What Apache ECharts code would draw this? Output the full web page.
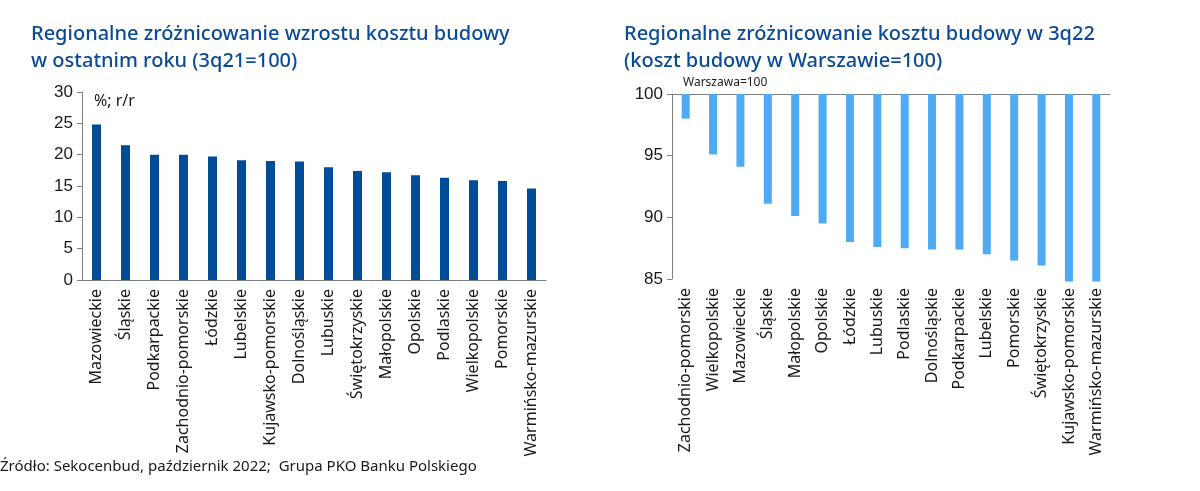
<!DOCTYPE html>
<html>
<head>
<meta charset="utf-8">
<script src="https://cdn.jsdelivr.net/npm/echarts@6/dist/echarts.min.js"></script>
<style>
html, body { margin: 0; padding: 0; background: #fff; }
#chart { width: 1200px; height: 491px; }
</style>
</head>
<body>
<div id="chart"></div>
<script>
// wzrost kosztu budowy r/r, %
const growthRegions = ['Mazowieckie', 'Śląskie', 'Podkarpackie', 'Zachodnio-pomorskie', 'Łódzkie', 'Lubelskie',
	'Kujawsko-pomorskie', 'Dolnośląskie', 'Lubuskie', 'Świętokrzyskie', 'Małopolskie', 'Opolskie',
	'Podlaskie', 'Wielkopolskie', 'Pomorskie', 'Warmińsko-mazurskie'];
const growthValues = [24.8, 21.5, 20.0, 20.0, 19.7, 19.1, 19.0, 18.9, 18.0, 17.4, 17.2, 16.7, 16.3, 15.9, 15.8, 14.6];

// koszt budowy, Warszawa = 100
const levelRegions = ['Zachodnio-pomorskie', 'Wielkopolskie', 'Mazowieckie', 'Śląskie', 'Małopolskie', 'Opolskie',
	'Łódzkie', 'Lubuskie', 'Podlaskie', 'Dolnośląskie', 'Podkarpackie', 'Lubelskie', 'Pomorskie',
	'Świętokrzyskie', 'Kujawsko-pomorskie', 'Warmińsko-mazurskie'];
const levelValues = [98.0, 95.1, 94.1, 91.1, 90.1, 89.5, 88.0, 87.6, 87.5, 87.4, 87.4, 87.0, 86.5, 86.1, 84.8, 84.8];
const warsawLevel = 100;

const leftTicks = { min: 0, max: 30, interval: 5 };
const rightTicks = { min: 85, max: 100, interval: 5 };

const titleColor = '#0b4a96';
const darkBar = '#004c97';
const lightBar = '#4eaaf3';
const axisColor = '#7f7f7f';
const roundFont = '"Noto Sans", sans-serif';
const numFont = '"Liberation Sans", Arial, sans-serif';

// bars hang down from Warszawa=100, so stack a hidden base under the gap
const levelGap = levelValues.map(v => +(warsawLevel - v).toFixed(1));

const catLabel = {
	rotate: 90,
	interval: 0,
	fontFamily: roundFont,
	fontSize: 16,
	color: '#1a1a1a',
	margin: 9
};
const valLabel = {
	fontFamily: numFont,
	fontSize: 17,
	color: '#1a1a1a',
	margin: 9
};
const titleStyle = { color: titleColor, fontFamily: roundFont, fontSize: 20, fontWeight: 500, lineHeight: 27 };

const chart = echarts.init(document.getElementById('chart'));

const option = {
	animation: false,
	title: [
		{
			text: 'Regionalne zróżnicowanie wzrostu kosztu budowy\nw ostatnim roku (3q21=100)',
			left: 26, top: 16,
			textStyle: titleStyle
		},
		{
			text: 'Regionalne zróżnicowanie kosztu budowy w 3q22\n(koszt budowy w Warszawie=100)',
			left: 619, top: 16,
			textStyle: titleStyle
		}
	],
	graphic: [
		{ type: 'text', left: 94, top: 93, style: { text: '%; r/r', fontFamily: roundFont, fontSize: 16, fill: '#1a1a1a' } },
		{ type: 'text', left: 683, top: 77, style: { text: 'Warszawa=100', fontFamily: roundFont, fontSize: 12, fill: '#1a1a1a' } },
		{ type: 'text', left: 0, top: 459, style: { text: 'Źródło: Sekocenbud, październik 2022;  Grupa PKO Banku Polskiego', fontFamily: roundFont, fontSize: 15, fill: '#1a1a1a' } }
	],
	grid: [
		{ left: 82, top: 92, width: 464, height: 188 },
		{ left: 672, top: 94, width: 438, height: 185 }
	],
	xAxis: [
		{
			gridIndex: 0, type: 'category', data: growthRegions,
			axisLine: { lineStyle: { color: axisColor } },
			axisTick: { length: 5, lineStyle: { color: axisColor } },
			axisLabel: catLabel
		},
		{
			gridIndex: 1, type: 'category', data: levelRegions, position: 'top',
			axisLine: { lineStyle: { color: axisColor } },
			axisTick: { length: 4, lineStyle: { color: axisColor } },
			axisLabel: { show: false }
		},
		{
			gridIndex: 1, type: 'category', data: levelRegions, position: 'bottom',
			axisLine: { show: false },
			axisTick: { show: false },
			axisLabel: catLabel
		}
	],
	yAxis: [
		{
			gridIndex: 0, type: 'value', min: leftTicks.min, max: leftTicks.max, interval: leftTicks.interval,
			axisLine: { show: true, lineStyle: { color: axisColor } },
			axisTick: { show: true, length: 5, lineStyle: { color: axisColor } },
			splitLine: { show: false },
			axisLabel: valLabel
		},
		{
			gridIndex: 1, type: 'value', min: rightTicks.min, max: rightTicks.max, interval: rightTicks.interval,
			axisLine: { show: true, lineStyle: { color: axisColor } },
			axisTick: { show: true, length: 5, lineStyle: { color: axisColor } },
			splitLine: { show: false },
			axisLabel: valLabel
		}
	],
	series: [
		{
			type: 'bar', xAxisIndex: 0, yAxisIndex: 0,
			data: growthValues, barWidth: 9,
			itemStyle: { color: darkBar }
		},
		{
			type: 'bar', xAxisIndex: 1, yAxisIndex: 1, stack: 'lvl',
			data: levelValues, barWidth: 8,
			itemStyle: { color: 'transparent' },
			silent: true
		},
		{
			type: 'bar', xAxisIndex: 1, yAxisIndex: 1, stack: 'lvl',
			data: levelGap, barWidth: 8, clip: false,
			itemStyle: { color: lightBar }
		}
	]
};

chart.setOption(option);
</script>
</body>
</html>
